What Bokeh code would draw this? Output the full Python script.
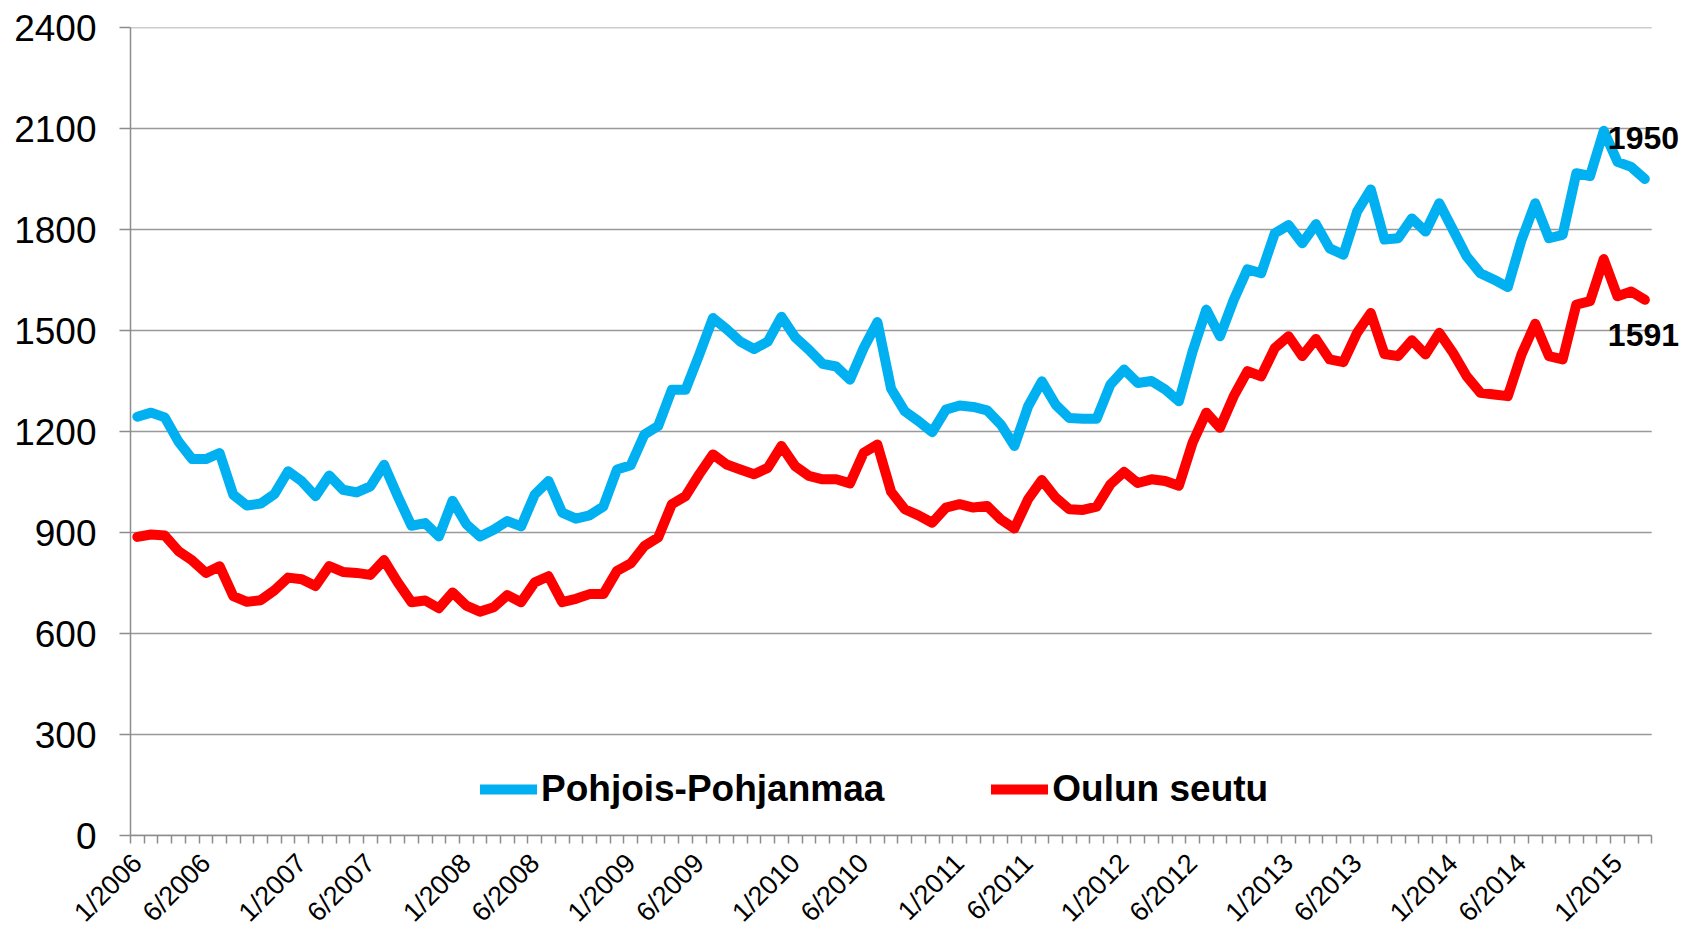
from bokeh.plotting import figure
from bokeh.models import Range1d, FixedTicker, Legend, LegendItem, Label, ColumnDataSource
from bokeh.embed import file_html
from bokeh.resources import INLINE

# ---- data -------------------------------------------------------------
years = list(range(2006, 2016))
months = [f"{m}/{y}" for y in years for m in range(1, 13)][:111]   # 1/2006 .. 3/2015

tick_labels = ["1/2006", "6/2006", "1/2007", "6/2007", "1/2008", "6/2008",
               "1/2009", "6/2009", "1/2010", "6/2010", "1/2011", "6/2011",
               "1/2012", "6/2012", "1/2013", "6/2013", "1/2014", "6/2014",
               "1/2015"]

pohjois_pohjanmaa = [
    1244, 1256, 1242, 1170, 1118, 1118, 1136, 1012, 980, 986, 1014, 1082, 1052, 1008, 1069, 1027, 1019, 1037, 1101,
    1008, 920, 928, 888, 994, 925, 888, 908, 934, 918, 1013, 1053, 959, 941, 951, 977, 1087, 1100,
    1191, 1216, 1324, 1324, 1428, 1537, 1504, 1467, 1445, 1467, 1541, 1480, 1443, 1401, 1393, 1354, 1448, 1525, 1327,
    1260, 1231, 1198, 1265, 1277, 1273, 1263, 1221, 1157, 1275, 1349, 1280, 1240, 1238, 1238, 1339, 1384, 1344,
    1350, 1325, 1290, 1438, 1562, 1483, 1591, 1682, 1670, 1789, 1813, 1759, 1816, 1744, 1725, 1853, 1919, 1770, 1774,
    1833, 1794, 1878, 1799, 1720, 1670, 1651, 1629, 1769, 1878, 1774, 1784, 1967, 1959, 2093, 2001, 1986, 1950,
]

oulun_seutu = [
    887, 894, 891, 845, 817, 780, 800, 711, 694, 699, 728, 766, 761, 741, 800, 783, 780, 774, 818,
    752, 693, 698, 675, 722, 683, 665, 678, 714, 693, 752, 770, 693, 703, 717, 717, 786, 808,
    860, 885, 984, 1008, 1073, 1132, 1102, 1087, 1073, 1092, 1157, 1097, 1068, 1058, 1058, 1046, 1137, 1161, 1021,
    969, 951, 929, 974, 984, 974, 979, 939, 912, 999, 1056, 1004, 969, 967, 977, 1043, 1080, 1047,
    1058, 1053, 1039, 1167, 1256, 1211, 1305, 1379, 1364, 1448, 1483, 1424, 1475, 1414, 1406, 1493, 1552, 1430, 1424,
    1471, 1429, 1493, 1434, 1364, 1315, 1310, 1305, 1429, 1520, 1424, 1414, 1577, 1587, 1712, 1602, 1616, 1591,
]

series_names = ["Pohjois-Pohjanmaa", "Oulun seutu"]
series_colors = ["#00B0F0", "#FF0000"]
y_ticks = [0, 300, 600, 900, 1200, 1500, 1800, 2100, 2400]

# ---- figure -----------------------------------------------------------
FONT = "Liberation Sans"
GRID = "#999999"
AXIS = "#8c8c8c"
n = len(months)
xc = [i + 0.5 for i in range(n)]          # category centres

src = ColumnDataSource(dict(x=xc, pp=pohjois_pohjanmaa, os=oulun_seutu, m=months))

# the frame is a little wider than the category axis so the end labels fit
p = figure(width=1683, height=941, output_backend="svg", toolbar_location=None,
           x_range=Range1d(0, n + 2.32), y_range=Range1d(0, 2400),
           min_border_left=130, min_border_right=0, min_border_top=27, min_border_bottom=104)
p.outline_line_color = None
p.background_fill_color = "white"
p.border_fill_color = "white"

# horizontal gridlines limited to the category axis extent
p.xgrid.grid_line_color = None
p.ygrid.grid_line_color = None
p.segment(x0=[0] * len(y_ticks), x1=[n] * len(y_ticks), y0=y_ticks, y1=y_ticks,
          line_color=GRID, line_width=1.5, level="underlay")

# y axis
ya = p.yaxis[0]
ya.ticker = FixedTicker(ticks=y_ticks)
ya.axis_line_color = AXIS
ya.axis_line_width = 1.5
ya.major_tick_line_color = AXIS
ya.major_tick_line_width = 1.5
ya.major_tick_out = 11
ya.major_tick_in = 0
ya.minor_tick_line_color = None
ya.major_label_text_font = FONT
ya.major_label_text_font_size = "37px"
ya.major_label_text_color = "black"
ya.major_label_standoff = 23

# x axis: month boundaries as minor ticks, labels at selected months
label_pos = [months.index(t) + 0.5 for t in tick_labels]
xa = p.xaxis[0]
xa.bounds = (0, n)
xa.ticker = FixedTicker(ticks=label_pos, minor_ticks=list(range(n + 1)))
xa.major_label_overrides = {pos: lab for pos, lab in zip(label_pos, tick_labels)}
xa.axis_line_color = AXIS
xa.axis_line_width = 1.5
xa.major_tick_line_color = None
xa.major_tick_out = 8
xa.major_tick_in = 0
xa.minor_tick_line_color = AXIS
xa.minor_tick_line_width = 1.5
xa.minor_tick_out = 8
xa.minor_tick_in = 0
xa.major_label_orientation = 0.785398
xa.major_label_text_font = FONT
xa.major_label_text_font_size = "27px"
xa.major_label_text_color = "black"
xa.major_label_standoff = 15

# lines
r1 = p.line("x", "pp", source=src, line_color=series_colors[0], line_width=10,
            line_join="round", line_cap="round")
r2 = p.line("x", "os", source=src, line_color=series_colors[1], line_width=10,
            line_join="round", line_cap="round")

# end value labels
p.add_layout(Label(x=xc[-1], y=pohjois_pohjanmaa[-1], text=str(pohjois_pohjanmaa[-1]),
                   x_offset=-37, y_offset=41, text_align="left", text_baseline="middle",
                   text_font=FONT, text_font_style="bold", text_font_size="32px",
                   text_color="black"))
p.add_layout(Label(x=xc[-1], y=oulun_seutu[-1], text=str(oulun_seutu[-1]),
                   x_offset=-37, y_offset=-35, text_align="left", text_baseline="middle",
                   text_font=FONT, text_font_style="bold", text_font_size="32px",
                   text_color="black"))

# legend
legend = Legend(items=[LegendItem(label=series_names[0], renderers=[r1]),
                       LegendItem(label=series_names[1], renderers=[r2])],
                orientation="horizontal", location=(350, 25),
                glyph_width=57, glyph_height=20, label_standoff=4, spacing=107,
                padding=0, margin=0, border_line_alpha=0, background_fill_alpha=0,
                label_text_font=FONT, label_text_font_style="bold",
                label_text_font_size="37px", label_text_color="black")
p.add_layout(legend)

open("out.html", "w").write(file_html(p, INLINE))
